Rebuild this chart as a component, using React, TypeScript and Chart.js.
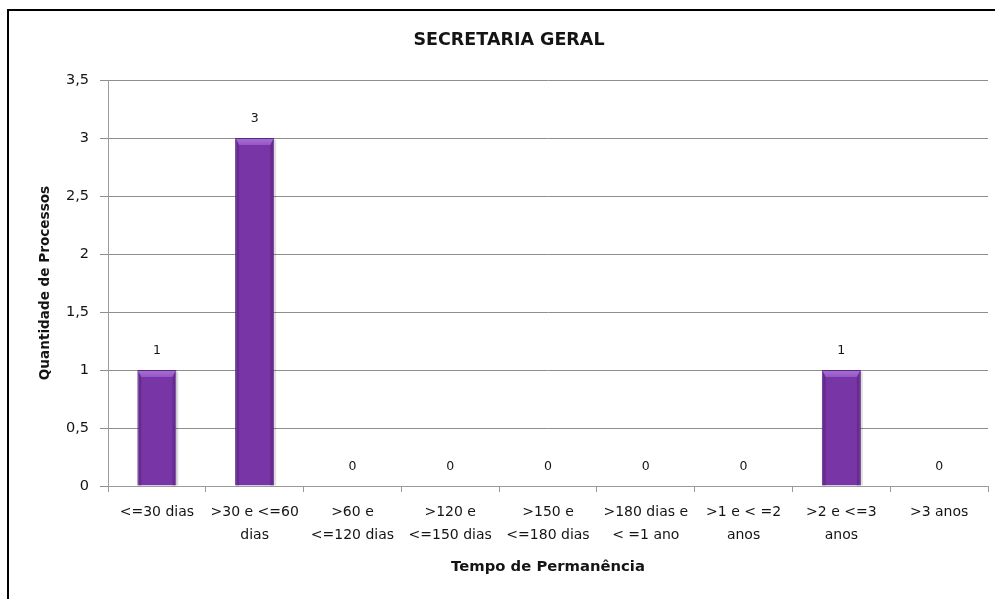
import React, { useEffect, useRef } from "react";
import { Chart, registerables } from "chart.js";

Chart.register(...registerables);

const chartTitle = "SECRETARIA GERAL";
const xAxisTitle = "Tempo de Permanência";
const yAxisTitle = "Quantidade de Processos";

const categories: string[][] = [
  ["<=30 dias"],
  [">30 e <=60", "dias"],
  [">60 e", "<=120 dias"],
  [">120 e", "<=150 dias"],
  [">150 e", "<=180 dias"],
  [">180 dias e", "< =1 ano"],
  [">1 e < =2", "anos"],
  [">2 e <=3", "anos"],
  [">3 anos"],
];

const values: number[] = [1, 3, 0, 0, 0, 0, 0, 1, 0];

const yMin = 0;
const yMax = 3.5;
const yStep = 0.5;

const FONT = '"DejaVu Sans", sans-serif';
const TEXT = "#141414";

const barLabelsPlugin = {
  id: "barLabels",
  afterDatasetsDraw(chart: any) {
    const ctx = chart.ctx;
    const meta = chart.getDatasetMeta(0);
    ctx.save();
    ctx.font = `12.5px ${FONT}`;
    ctx.fillStyle = TEXT;
    ctx.textAlign = "center";
    ctx.textBaseline = "middle";
    meta.data.forEach((bar: any, i: number) => {
      const p = bar.getProps(["x", "y"], true);
      ctx.fillText(String(values[i]), p.x, p.y - 19);
    });
    ctx.restore();
  },
};

const bevelPlugin = {
  id: "bevel",
  afterDatasetsDraw(chart: any) {
    const ctx = chart.ctx;
    const meta = chart.getDatasetMeta(0);
    ctx.save();
    meta.data.forEach((bar: any, i: number) => {
      if (!values[i]) return;
      const p = bar.getProps(["x", "y", "base", "width"], true);
      const l = p.x - p.width / 2;
      const r = p.x + p.width / 2;
      const t = p.y;
      const b = p.base;
      const e = 7;
      ctx.fillStyle = "rgba(60,20,90,0.30)";
      ctx.beginPath();
      ctx.moveTo(l + 1, t + 1);
      ctx.lineTo(l + 4, t + e);
      ctx.lineTo(l + 4, b);
      ctx.lineTo(l + 1, b);
      ctx.closePath();
      ctx.fill();
      ctx.beginPath();
      ctx.moveTo(r - 1, t + 1);
      ctx.lineTo(r - 4, t + e);
      ctx.lineTo(r - 4, b);
      ctx.lineTo(r - 1, b);
      ctx.closePath();
      ctx.fill();
      const g = ctx.createLinearGradient(0, t, 0, t + e);
      g.addColorStop(0, "#a871d6");
      g.addColorStop(1, "#9557c4");
      ctx.beginPath();
      ctx.moveTo(l + 1, t + 1);
      ctx.lineTo(r - 1, t + 1);
      ctx.lineTo(r - 4, t + e);
      ctx.lineTo(l + 4, t + e);
      ctx.closePath();
      ctx.fillStyle = g;
      ctx.fill();
      ctx.fillStyle = "rgba(0,0,0,0.12)";
      ctx.fillRect(r, t + 2, 2, b - t - 2);
    });
    ctx.restore();
  },
};

export default function App() {
  const canvasRef = useRef<HTMLCanvasElement | null>(null);

  useEffect(() => {
    if (!canvasRef.current) return;
    const chart = new Chart(canvasRef.current, {
      type: "bar",
      data: {
        labels: categories,
        datasets: [
          {
            data: values,
            backgroundColor: "#7835a6",
            borderColor: "#5b2582",
            borderWidth: 1,
            categoryPercentage: 1,
            barPercentage: 0.4,
          },
        ],
      },
      plugins: [bevelPlugin, barLabelsPlugin],
      options: {
        responsive: false,
        animation: false,
        devicePixelRatio: 1,
        layout: { padding: { left: 30, right: 7, top: 0, bottom: 0 } },
        plugins: {
          legend: { display: false },
          tooltip: { enabled: false },
          title: {
            display: true,
            text: chartTitle,
            color: TEXT,
            font: { family: FONT, size: 17.5, weight: "bold", lineHeight: 1.2 },
            padding: { top: 29.5, bottom: 29.5 },
          },
        },
        scales: {
          x: {
            grid: {
              offset: true,
              drawOnChartArea: false,
              drawTicks: true,
              tickLength: 6,
              color: "#9a9a9a",
            },
            border: { display: true, color: "#9a9a9a", width: 1 },
            ticks: {
              color: TEXT,
              font: { family: FONT, size: 14, lineHeight: 1.7 },
              padding: 8,
              maxRotation: 0,
              autoSkip: false,
            },
            title: {
              display: true,
              text: xAxisTitle,
              color: TEXT,
              font: { family: FONT, size: 14.8, weight: "bold", lineHeight: 1.2 },
              padding: { top: 8, bottom: 23.1 },
            },
            afterFit: (s: any) => {
              s.height = 113;
            },
          },
          y: {
            min: yMin,
            max: yMax,
            grid: {
              color: "#8e8e8e",
              drawTicks: true,
              tickLength: 8,
            },
            border: { display: true, color: "#9a9a9a", width: 1 },
            ticks: {
              stepSize: yStep,
              color: TEXT,
              font: { family: FONT, size: 14.5 },
              padding: 11,
              callback: (v: any) => String(v).replace(".", ","),
            },
            title: {
              display: true,
              text: yAxisTitle,
              color: TEXT,
              font: { family: FONT, size: 13.6, weight: "bold", lineHeight: 1.2 },
              padding: { top: 7.8, bottom: 0 },
            },
            afterFit: (s: any) => {
              s.width = 78;
            },
          },
        },
      },
    });
    return () => chart.destroy();
  }, []);

  return (
    <div style={{ position: "absolute", left: 0, top: 0, width: 995, height: 599, background: "#fff", overflow: "hidden" }}>
      <div
        style={{
          position: "absolute",
          left: 7,
          top: 9,
          width: 995,
          height: 600,
          borderLeft: "2px solid #000",
          borderTop: "2px solid #000",
        }}
      />
      <canvas
        ref={canvasRef}
        width={995}
        height={599}
        style={{ position: "absolute", left: 0, top: 0, width: 995, height: 599 }}
      />
    </div>
  );
}
